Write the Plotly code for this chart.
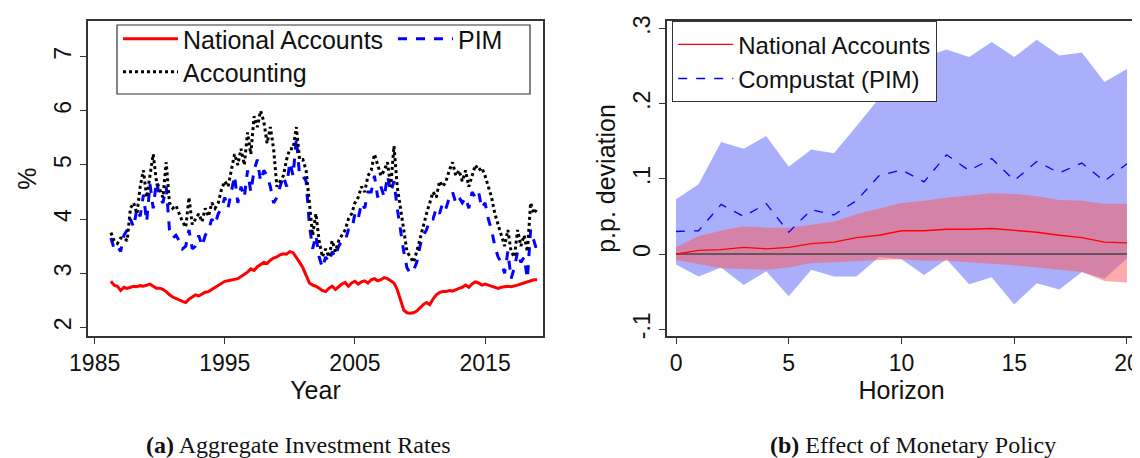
import plotly.graph_objects as go

# ---------- Panel (a) data: quarterly 1986Q2 .. 2019Q1 ----------
start_year = 1986.25
national_accounts = [
    2.85, 2.78, 2.76,
    2.68, 2.74, 2.72, 2.74,
    2.76, 2.75, 2.77, 2.76,
    2.78, 2.80, 2.76, 2.72,
    2.72, 2.70, 2.66, 2.60,
    2.56, 2.53, 2.50, 2.48,
    2.46, 2.52, 2.56, 2.60,
    2.58, 2.62, 2.65, 2.66,
    2.70, 2.74, 2.78, 2.82,
    2.85, 2.86, 2.87, 2.88,
    2.90, 2.94, 2.98, 3.02,
    3.08, 3.05, 3.12, 3.16,
    3.20, 3.18, 3.24, 3.28,
    3.30, 3.34, 3.36, 3.35,
    3.40, 3.38, 3.30, 3.20,
    3.10, 2.95, 2.82, 2.78,
    2.76, 2.72, 2.68, 2.66,
    2.72, 2.76, 2.70, 2.75,
    2.80, 2.83, 2.76, 2.82,
    2.85, 2.80, 2.84, 2.86,
    2.82, 2.88, 2.90, 2.86,
    2.88, 2.92, 2.90, 2.86,
    2.82, 2.70, 2.50, 2.32,
    2.27, 2.26, 2.27, 2.30,
    2.36, 2.42, 2.46, 2.42,
    2.52, 2.60, 2.64, 2.66,
    2.66, 2.68, 2.67, 2.70,
    2.72, 2.74, 2.78, 2.74,
    2.80, 2.84, 2.82, 2.78,
    2.80, 2.78, 2.76, 2.74,
    2.72, 2.74, 2.75, 2.76,
    2.75, 2.76, 2.78, 2.80,
    2.82, 2.85, 2.86, 2.88,
    2.88]
pim = [3.65, 3.45, 3.50, 3.40,
    3.70, 3.80, 4.00, 3.85, 4.20, 4.05, 4.45, 3.95,
    4.65, 4.20, 4.70, 4.40, 4.30, 4.60, 3.80, 3.65,
    3.70, 3.60, 3.45, 3.50, 3.80, 3.45, 3.50, 3.70,
    3.50, 3.70, 3.80, 4.00, 3.90, 4.10, 4.20, 4.40,
    4.20, 4.50, 4.80, 4.30, 4.60, 4.40, 4.90, 4.50,
    4.90, 5.10, 4.70, 4.90, 4.80, 4.60, 4.30, 4.40,
    4.60, 4.80, 4.60, 5.05, 4.80, 5.50, 4.80, 4.80,
    4.70, 3.90, 3.45, 3.70, 3.30, 3.10, 3.30, 3.20,
    3.40, 3.30, 3.50, 3.60, 3.60, 3.80, 3.80, 4.10,
    4.00, 4.30, 4.20, 4.50, 4.50, 4.80, 4.40, 4.60,
    4.40, 4.80, 4.50, 4.70, 4.20, 3.80, 3.40, 3.10,
    3.00, 3.05, 3.20, 3.50, 3.70, 3.80, 4.00, 4.00,
    4.20, 4.10, 4.30, 4.20, 4.40, 4.50, 4.30, 4.40,
    4.30, 4.40, 4.20, 4.50, 4.40, 4.50, 4.20, 4.30,
    4.00, 3.80, 3.50, 3.30, 3.20, 3.00, 3.40, 2.90,
    3.10, 3.40, 3.20, 3.30, 2.90, 3.80, 3.60, 3.40]
accounting = [3.75, 3.60, 3.55, 3.65,
    3.65, 3.60, 4.20, 4.30, 4.10, 4.60, 4.90, 4.40,
    4.80, 5.20, 4.70, 4.55, 4.40, 5.05, 4.30, 4.20,
    4.25, 4.10, 3.95, 3.85, 4.40, 3.90, 4.00, 4.10,
    3.95, 4.20, 4.05, 4.30, 4.20, 4.30, 4.55, 4.70,
    4.60, 4.90, 5.20, 5.00, 5.30, 5.00, 5.60, 5.20,
    5.90, 5.70, 6.00, 5.80, 5.40, 5.70, 5.30, 4.60,
    4.70, 4.80, 5.10, 5.30, 5.30, 5.70, 5.10, 5.10,
    4.90, 4.30, 3.70, 4.10, 3.60, 3.30, 3.45, 3.30,
    3.60, 3.40, 3.60, 3.70, 3.80, 4.00, 4.10, 4.30,
    4.40, 4.60, 4.50, 4.80, 4.90, 5.20, 5.00, 4.80,
    4.90, 5.05, 4.60, 5.35, 4.60, 4.20, 3.80, 3.40,
    3.30, 3.20, 3.40, 3.65, 3.90, 4.10, 4.30, 4.50,
    4.40, 4.70, 4.60, 4.70, 4.90, 5.05, 4.80, 4.90,
    4.70, 4.90, 4.60, 4.80, 5.00, 4.90, 4.95, 4.80,
    4.60, 4.40, 4.10, 3.90, 3.70, 3.50, 3.80, 3.40,
    3.30, 3.80, 3.50, 3.70, 3.40, 4.30, 4.10, 4.20]

def qyears(series):
    return [start_year + 0.25 * i for i in range(len(series))]

# ---------- Panel (b) data ----------
horizon = list(range(21))
na_irf = [0.000, 0.005, 0.006, 0.009, 0.007, 0.009, 0.014, 0.016, 0.022, 0.025, 0.031,
          0.031, 0.033, 0.033, 0.034, 0.032, 0.029, 0.025, 0.022, 0.016, 0.015]
na_upper = [0.009, 0.024, 0.031, 0.037, 0.035, 0.035, 0.039, 0.043, 0.053, 0.060, 0.068,
            0.071, 0.075, 0.078, 0.081, 0.080, 0.077, 0.072, 0.071, 0.067, 0.067]
na_lower = [-0.008, -0.013, -0.019, -0.020, -0.021, -0.018, -0.012, -0.011, -0.009, -0.008, -0.007,
            -0.009, -0.009, -0.011, -0.012, -0.015, -0.018, -0.021, -0.024, -0.036, -0.038]
pim_irf = [0.030, 0.031, 0.066, 0.050, 0.067, 0.029, 0.059, 0.052, 0.071, 0.104, 0.112,
           0.096, 0.132, 0.111, 0.127, 0.098, 0.123, 0.108, 0.121, 0.097, 0.120]
pim_upper = [0.073, 0.093, 0.149, 0.140, 0.157, 0.116, 0.139, 0.134, 0.170, 0.207, 0.240,
             0.262, 0.272, 0.262, 0.282, 0.262, 0.285, 0.264, 0.268, 0.229, 0.246]
pim_lower = [-0.014, -0.030, -0.018, -0.041, -0.023, -0.056, -0.021, -0.030, -0.030, -0.004, -0.007,
             -0.028, -0.007, -0.040, -0.031, -0.067, -0.039, -0.047, -0.024, -0.033, -0.006]

font = "Liberation Sans, Arial, sans-serif"
fig = go.Figure()

# Panel (a)
fig.add_trace(go.Scatter(x=qyears(national_accounts), y=national_accounts, mode="lines", name="National Accounts",
                         line=dict(color="#ff0000", width=3), xaxis="x", yaxis="y", legend="legend"))
fig.add_trace(go.Scatter(x=qyears(pim), y=pim, mode="lines", name="PIM",
                         line=dict(color="#0000ff", width=3, dash="dash"), xaxis="x", yaxis="y", legend="legend"))
fig.add_trace(go.Scatter(x=qyears(accounting), y=accounting, mode="lines", name="Accounting",
                         line=dict(color="#000000", width=3, dash="dot"), xaxis="x", yaxis="y", legend="legend3"))

# Panel (b) bands
fig.add_trace(go.Scatter(x=horizon, y=pim_upper, mode="lines", line=dict(width=0), showlegend=False,
                         xaxis="x2", yaxis="y2", hoverinfo="skip"))
fig.add_trace(go.Scatter(x=horizon, y=pim_lower, mode="lines", line=dict(width=0), fill="tonexty",
                         fillcolor="rgba(85,95,250,0.5)", showlegend=False, xaxis="x2", yaxis="y2", hoverinfo="skip"))
fig.add_trace(go.Scatter(x=horizon, y=na_upper, mode="lines", line=dict(width=0), showlegend=False,
                         xaxis="x2", yaxis="y2", hoverinfo="skip"))
fig.add_trace(go.Scatter(x=horizon, y=na_lower, mode="lines", line=dict(width=0), fill="tonexty",
                         fillcolor="rgba(255,85,85,0.5)", showlegend=False, xaxis="x2", yaxis="y2", hoverinfo="skip"))
fig.add_trace(go.Scatter(x=[0, 20], y=[0, 0], mode="lines", line=dict(color="#444444", width=1.5),
                         showlegend=False, xaxis="x2", yaxis="y2", hoverinfo="skip"))
fig.add_trace(go.Scatter(x=horizon, y=na_irf, mode="lines", name="National Accounts",
                         line=dict(color="#ff0000", width=1.3), xaxis="x2", yaxis="y2", legend="legend2"))
fig.add_trace(go.Scatter(x=horizon, y=pim_irf, mode="lines", name="Compustat (PIM)",
                         line=dict(color="#0000ff", width=1.3, dash="dash"), xaxis="x2", yaxis="y2", legend="legend2"))

axis_common = dict(showgrid=False, zeroline=False, showline=True, linecolor="#333333", linewidth=1.5,
                   mirror=True, ticks="outside", ticklen=6, tickcolor="#333333", automargin=False,
                   tickfont=dict(size=23, color="#111"))

W, H = 1140, 458
def px(x): return x / W
def py(y): return 1 - y / H

fig.update_layout(
    width=W, height=H, margin=dict(l=0, r=0, t=0, b=0, autoexpand=False),
    paper_bgcolor="white", plot_bgcolor="white", font=dict(family=font, color="#111"),
    xaxis=dict(domain=[px(80), px(535)], anchor="y", range=[1984.49, 2019.45],
               tickvals=[1985, 1995, 2005, 2015], title=dict(text="Year", font=dict(size=25), standoff=2),
               **axis_common),
    yaxis=dict(domain=[py(328), py(13)], anchor="x", range=[1.84, 7.66], tickvals=[2, 3, 4, 5, 6, 7],
               tickangle=-90, title=dict(text="%", font=dict(size=25), standoff=6), **axis_common),
    xaxis2=dict(domain=[px(659), px(1128)], anchor="y2", range=[-0.4, 20.4], tickvals=[0, 5, 10, 15, 20],
                title=dict(text="Horizon", font=dict(size=25), standoff=2), **axis_common),
    yaxis2=dict(domain=[py(328), py(13)], anchor="x2", range=[-0.109, 0.31],
                tickvals=[-0.1, 0, 0.1, 0.2, 0.3], ticktext=["-.1", "0", ".1", ".2", ".3"],
                tickangle=-90, title=dict(text="p.p. deviation", font=dict(size=25), standoff=6),
                **axis_common),
    legend=dict(x=px(110), y=py(8), xanchor="left", yanchor="top", orientation="h",
                bgcolor="rgba(0,0,0,0)", borderwidth=0, font=dict(size=25),
                entrywidth=205, entrywidthmode="pixels", itemwidth=55, traceorder="normal"),
    legend3=dict(x=px(110), y=py(41), xanchor="left", yanchor="top", orientation="h",
                 bgcolor="rgba(0,0,0,0)", borderwidth=0, font=dict(size=25), itemwidth=55),
    legend2=dict(x=px(664), y=py(13), xanchor="left", yanchor="top", bgcolor="white",
                 bordercolor="#333", borderwidth=1.2, font=dict(size=24), itemwidth=55, tracegroupgap=0),
    shapes=[dict(type="rect", xref="paper", yref="paper", x0=px(109), x1=px(522), y0=py(86), y1=py(17),
                 line=dict(color="#333", width=1.2), fillcolor="white", layer="above")],
    annotations=[
        dict(text="<b>(a)</b> Aggregate Investment Rates", x=px(290), y=py(437), xref="paper", yref="paper",
             xanchor="center", yanchor="middle", showarrow=False,
             font=dict(family="Liberation Serif, DejaVu Serif, serif", size=24)),
        dict(text="<b>(b)</b> Effect of Monetary Policy", x=px(905), y=py(437), xref="paper", yref="paper",
             xanchor="center", yanchor="middle", showarrow=False,
             font=dict(family="Liberation Serif, DejaVu Serif, serif", size=24)),
    ],
)

fig.write_html("out.html")
